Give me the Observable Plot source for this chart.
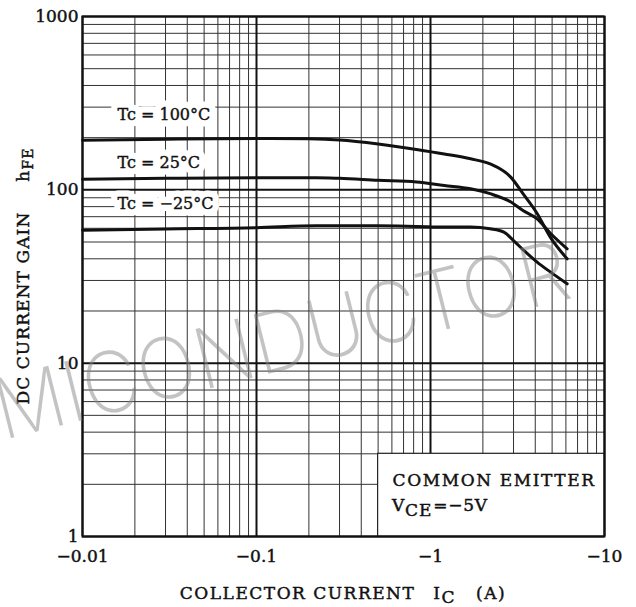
<!DOCTYPE html>
<html><head><meta charset="utf-8">
<script src="https://cdn.jsdelivr.net/npm/d3@7"></script>
<script src="https://cdn.jsdelivr.net/npm/@observablehq/plot@0.6"></script>
<style>
html,body{margin:0;padding:0;background:#fff;}
#chart{position:relative;width:636px;height:607px;overflow:hidden;}
</style></head><body><div id="chart"></div>
<script>
// ---- data ----
const seriesNames = ["Tc = 100°C", "Tc = 25°C", "Tc = −25°C"];
const ic100 = [0.01, 0.03, 0.1, 0.2, 0.3, 0.5, 0.83, 1.2, 1.7, 2.2, 2.9, 3.4, 4.1, 4.9, 6.1];
const hfe100 = [193, 196, 198, 197, 194, 184, 171, 161, 151, 141, 118, 95, 73, 53, 40];
const ic25 = [0.01, 0.03, 0.1, 0.22, 0.3, 0.5, 0.83, 1.2, 1.7, 2.2, 2.9, 3.4, 4.1, 4.9, 6.1];
const hfe25 = [115, 116.5, 117.5, 117.5, 116.5, 113.5, 111, 106, 101.5, 95, 85, 76, 68, 56, 45.7];
const icM25 = [0.01, 0.03, 0.1, 0.22, 0.5, 0.83, 1.2, 1.7, 2.2, 2.64, 3.0, 3.44, 4.1, 4.9, 6.1];
const hfeM25 = [58.5, 59.5, 60.5, 62, 62, 61.5, 61, 61, 59.6, 57, 51, 44.7, 38.3, 33.5, 28.7];

const xTicks = [0.01, 0.1, 1, 10];
const yTicks = [1, 10, 100, 1000];
const gridMultipliers = [1, 2, 3, 4, 5, 6, 7, 8, 9];
const xDecades = [0.01, 0.1, 1];
const yDecades = [1, 10, 100];

// label anchors (data units)
const labelX = [0.0159, 0.0159, 0.0159];
const labelY = [269, 144, 83.5];
const noteBox = [{x1: 0.5, x2: 10, y1: 1, y2: 3}];
const noteAnchor = {x: 0.605, y: 2.1};
const watermarkText = "MICONDUCTOR";

// ---- build tables ----
const rows = [
  ...ic100.map((x, i) => ({series: seriesNames[0], ic: x, hfe: hfe100[i]})),
  ...ic25.map((x, i) => ({series: seriesNames[1], ic: x, hfe: hfe25[i]})),
  ...icM25.map((x, i) => ({series: seriesNames[2], ic: x, hfe: hfeM25[i]}))
];
const labels = seriesNames.map((s, i) => ({text: s, x: labelX[i], y: labelY[i]}));
const gridX = [...xDecades.flatMap(d => gridMultipliers.map(m => +(m * d).toPrecision(3))), 10];
const gridY = [...yDecades.flatMap(d => gridMultipliers.map(m => m * d)), 1000];
const isDecade = v => Math.abs(Math.log10(v) - Math.round(Math.log10(v))) < 1e-9;

const W = 636, H = 607, mL = 82, mR = 32, mT = 16, mB = 71;
const FONT = "'DejaVu Serif', 'Liberation Serif', serif";

const plot = Plot.plot({
  width: W, height: H,
  marginLeft: mL, marginRight: mR, marginTop: mT, marginBottom: mB,
  style: {fontFamily: FONT, fontSize: "17px", color: "#111", background: "white", overflow: "visible"},
  x: {type: "log", domain: [0.01, 10], ticks: xTicks, tickFormat: d => "−" + d, tickSize: 0, tickPadding: 13, label: null},
  y: {type: "log", domain: [1, 1000], ticks: yTicks, tickFormat: d => String(d), tickSize: 0, tickPadding: 4, label: null},
  marks: [
    Plot.ruleX(gridX.filter(v => !isDecade(v)), {stroke: "#333", strokeWidth: 1}),
    Plot.ruleY(gridY.filter(v => !isDecade(v)), {stroke: "#333", strokeWidth: 1}),
    Plot.ruleX(gridX.filter(isDecade), {stroke: "#111", strokeWidth: 2}),
    Plot.ruleY(gridY.filter(isDecade), {stroke: "#111", strokeWidth: 2}),
    Plot.rect(noteBox, {x1: "x1", x2: "x2", y1: "y1", y2: "y2", fill: "white", stroke: "#222", strokeWidth: 1.2}),
    Plot.text(labels, {x: "x", y: "y", text: "text", textAnchor: "start", fill: "white", stroke: "white", strokeWidth: 13, fontSize: 16}),
    Plot.text(labels, {x: "x", y: "y", text: "text", textAnchor: "start", fill: "#111", stroke: "#111", strokeWidth: 0.4, fontSize: 16}),
    Plot.line(rows, {x: "ic", y: "hfe", z: "series", stroke: "#111", strokeWidth: 3, curve: "monotone-x"}),
    Plot.text(["COMMON EMITTER"], {x: () => noteAnchor.x, y: () => noteAnchor.y, textAnchor: "start", fill: "#111", fontSize: 17}),
    Plot.frame({stroke: "#111", strokeWidth: 2})
  ]
});
document.getElementById("chart").appendChild(plot);

// ---- titles and annotations added with d3 ----
const svg = d3.select(plot);
const xs = d3.scaleLog().domain([0.01, 10]).range([mL, W - mR]);
const ys = d3.scaleLog().domain([1, 1000]).range([H - mB, mT]);

// note: letter spacing on first line
svg.selectAll("text").filter(function () { return this.textContent === "COMMON EMITTER"; })
  .attr("letter-spacing", 1.6);

// note second line
const v = svg.append("text").attr("x", xs(noteAnchor.x)).attr("y", ys(noteAnchor.y) + 31)
  .attr("text-anchor", "start").attr("font-family", FONT).attr("font-size", 17)
  .attr("letter-spacing", 0.8).attr("fill", "#111");
v.append("tspan").text("V");
v.append("tspan").attr("dy", 5).text("CE");
v.append("tspan").attr("dy", -5).attr("dx", 1).text("=−5V");

// x title
const xt = svg.append("text").attr("x", (mL + W - mR) / 2).attr("y", 599)
  .attr("text-anchor", "middle").attr("font-family", FONT).attr("font-size", 17)
  .attr("letter-spacing", 1.5).attr("fill", "#111");
xt.append("tspan").text("COLLECTOR CURRENT");
xt.append("tspan").attr("dx", 18).text("I");
xt.append("tspan").attr("dy", 4).text("C");
xt.append("tspan").attr("dy", -4).attr("dx", 20).text("(A)");

// y title
const yt = svg.append("text").attr("transform", `translate(29,${(mT + H - mB) / 2}) rotate(-90)`)
  .attr("text-anchor", "middle").attr("font-family", FONT).attr("font-size", 17)
  .attr("letter-spacing", 1.1).attr("fill", "#111");
yt.append("tspan").text("DC CURRENT GAIN");
yt.append("tspan").attr("dx", 30).text("h");
yt.append("tspan").attr("dy", 4).attr("font-size", 14).text("FE");

// slight emboldening of the scanned serif text (not the white halo masks)
svg.selectAll("text").filter(function () {
  const g = this.closest("g");
  return !(g && (g.getAttribute("stroke") === "white" || g.getAttribute("stroke") === "#111"));
}).attr("stroke", "#111").attr("stroke-width", 0.45);

// watermark
svg.append("text").attr("transform", "translate(3,440) rotate(-14) scale(0.93,1)")
  .attr("text-anchor", "start").attr("font-family", "Inter, Lato, sans-serif")
  .attr("font-weight", 200).attr("font-size", 84).attr("fill", "#888").attr("opacity", 0.5)
  .text(watermarkText);
</script></body></html>
